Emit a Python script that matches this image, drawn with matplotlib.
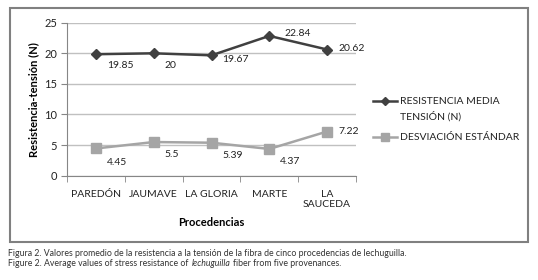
import matplotlib
matplotlib.use("Agg")
import matplotlib.pyplot as plt
from matplotlib.lines import Line2D
from matplotlib.patches import Rectangle

# data
procedencias = ["PAREDÓN", "JAUMAVE", "LA GLORIA", "MARTE", "LA\nSAUCEDA"]
resistencia = [19.85, 20, 19.67, 22.84, 20.62]
desviacion = [4.45, 5.5, 5.39, 4.37, 7.22]
res_labels = ["19.85", "20", "19.67", "22.84", "20.62"]
desv_labels = ["4.45", "5.5", "5.39", "4.37", "7.22"]

# label offsets (points) for the data labels
res_off = [(8, -8), (8, -9), (8, -3), (11, 2), (8, 1)]
desv_off = [(8, -10), (8, -9), (8, -9), (8, -9), (8, 0)]

dark = "#404040"
light = "#a5a5a5"
plt.rcParams["font.family"] = ["Lato", "DejaVu Sans"]

fig = plt.figure(figsize=(5.38, 2.8), dpi=100)
ax = fig.add_axes([67 / 538, 1 - 175.7 / 280, 289 / 538, 153 / 280])

x = list(range(len(procedencias)))
ax.plot(x, resistencia, color=dark, lw=1.8, marker="D", ms=5.5, zorder=3)
ax.plot(x, desviacion, color=light, lw=1.8, marker="s", ms=7, zorder=3)

for i in x:
    ax.annotate(res_labels[i], (i, resistencia[i]), xytext=res_off[i],
                textcoords="offset points", ha="left", va="center",
                fontsize=7.5, color="#222222")
    ax.annotate(desv_labels[i], (i, desviacion[i]), xytext=desv_off[i],
                textcoords="offset points", ha="left", va="center",
                fontsize=7.5, color="#222222")

ax.set_xlim(-0.5, 4.5)
ax.set_ylim(0, 25)
ax.set_yticks([0, 5, 10, 15, 20, 25])
ax.set_xticks(x)
ax.set_xticklabels(procedencias, fontsize=7.5, color="#222222")
ax.set_xticks([i + 0.5 for i in range(-1, 5)], minor=True)
ax.tick_params(axis="x", which="major", length=0, pad=10)
ax.tick_params(axis="x", which="minor", length=4, color="#868686")
ax.tick_params(axis="y", length=4, color="#868686", labelsize=8,
               labelcolor="#222222", pad=3)
ax.yaxis.grid(True, color="#c0c0c0", lw=1)
ax.set_axisbelow(True)
for s in ["top", "right"]:
    ax.spines[s].set_visible(False)
ax.spines["left"].set_color("#868686")
ax.spines["bottom"].set_color("#868686")

ax.set_xlabel("Procedencias", fontsize=8, fontweight="bold", labelpad=6)
ax.set_ylabel("Resistencia-tensión (N)", fontsize=8, fontweight="bold",
              labelpad=4)

# legend drawn by hand
y1 = 1 - 101 / 280
y2 = 1 - 137 / 280
fig.add_artist(Line2D([373 / 538, 397 / 538], [y1, y1], color=dark, lw=1.8))
fig.add_artist(Line2D([385 / 538], [y1], color=dark, marker="D", ms=4.5,
                      lw=0))
fig.text(400 / 538, y1, "RESISTENCIA MEDIA", fontsize=7.5, va="center",
         color="#222222")
fig.text(400 / 538, 1 - 116 / 280, "TENSIÓN (N)", fontsize=7.5,
         va="center", color="#222222")
fig.add_artist(Line2D([373 / 538, 397 / 538], [y2, y2], color=light, lw=1.8))
fig.add_artist(Line2D([385 / 538], [y2], color=light, marker="s", ms=6,
                      lw=0))
fig.text(400 / 538, y2, "DESVIACIÓN ESTÁNDAR", fontsize=7.5, va="center",
         color="#222222")

# chart border
fig.add_artist(Rectangle((10 / 538, 1 - 242 / 280), 518 / 538, 234 / 280,
                         transform=fig.transFigure, fill=False,
                         edgecolor="#808080", lw=1.5))

# caption
cap_fs = 6.3
fig.text(8 / 538, 1 - 254 / 280,
         "Figura 2. Valores promedio de la resistencia a la tensión de la "
         "fibra de cinco procedencias de lechuguilla.",
         fontsize=cap_fs, va="center", color="#333333")
fig.canvas.draw()
r = fig.canvas.get_renderer()
t1 = fig.text(8 / 538, 1 - 263 / 280,
              "Figure 2. Average values of stress resistance of ",
              fontsize=cap_fs, va="center", color="#333333")
x1 = t1.get_window_extent(r).x1 / fig.bbox.width
t2 = fig.text(x1 + 1 / 538, 1 - 263 / 280, "lechuguilla",
              fontsize=cap_fs, va="center", style="italic", color="#333333")
x2 = t2.get_window_extent(r).x1 / fig.bbox.width
fig.text(x2 + 2 / 538, 1 - 263 / 280, "fiber from five provenances.",
         fontsize=cap_fs, va="center", color="#333333")

fig.savefig("out.png", dpi=100)
